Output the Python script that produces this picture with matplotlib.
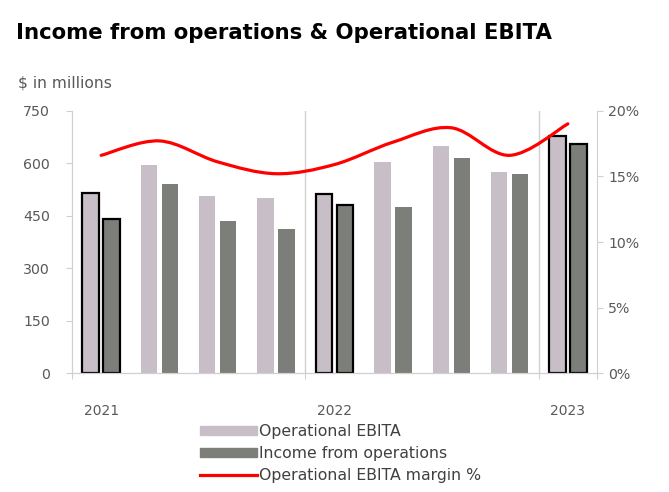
import matplotlib.pyplot as plt
from matplotlib.path import Path
from matplotlib.patches import PathPatch, Patch
from matplotlib.lines import Line2D
import numpy as np

# data (quarters Q4 2021 .. Q4 2023)
quarters = ["2021", "", "", "", "2022", "", "", "", "2023"]
ebita = [514, 595, 506, 501, 512, 604, 649, 575, 679]
income = [440, 541, 435, 412, 482, 475, 615, 569, 656]
margin = [16.6, 17.7, 16.1, 15.2, 15.9, 17.6, 18.7, 16.6, 19.0]
outlined = [True, False, False, False, True, False, False, False, True]

c_ebita = "#c8bec8"
c_income = "#7b7e79"
c_text = "#595959"
c_axis = "#d0d0d0"

fig = plt.figure(figsize=(6.69, 4.92), dpi=100)
ax = fig.add_axes([0.1076, 0.2412, 0.7848, 0.5338])
ax2 = ax.twinx()

x = np.arange(len(ebita))
w = 0.28
for i in x:
    kw = dict(edgecolor="black", linewidth=1.6) if outlined[i] else dict(linewidth=0)
    ax.bar(i - 0.18, ebita[i], w, color=c_ebita, **kw)
    ax.bar(i + 0.18, income[i], w, color=c_income, **kw)

ax.set_xlim(-0.5, len(x) - 0.5)
ax.set_ylim(0, 750)
ax.set_yticks([0, 150, 300, 450, 600, 750])
ax2.set_ylim(0, 20)
ax2.set_yticks([0, 5, 10, 15, 20])
ax2.set_yticklabels([f"{v}%" for v in [0, 5, 10, 15, 20]])

# year separators
for xv in [3.5, 7.5]:
    ax.axvline(xv, color=c_axis, lw=1, zorder=0)

# smoothed margin line (Bezier through the points)
pts = np.column_stack([x, margin]).astype(float)
verts = [tuple(pts[0])]
codes = [Path.MOVETO]
n = len(pts)
for i in range(n - 1):
    p0 = pts[max(i - 1, 0)]
    p1 = pts[i]
    p2 = pts[i + 1]
    p3 = pts[min(i + 2, n - 1)]
    c1 = p1 + (p2 - p0) / 6
    c2 = p2 - (p3 - p1) / 6
    verts += [tuple(c1), tuple(c2), tuple(p2)]
    codes += [Path.CURVE4] * 3
ax2.add_patch(PathPatch(Path(verts, codes), fill=False, edgecolor="#ff0000", lw=2.3,
                        capstyle="round"))

for a in (ax, ax2):
    for s in a.spines.values():
        s.set_color(c_axis)
    a.spines["top"].set_visible(False)
ax.spines["right"].set_visible(False)

ax.tick_params(axis="y", length=4, color=c_axis, labelcolor=c_text, labelsize=10.2, pad=12)
ax2.tick_params(axis="y", length=4, color=c_axis, labelcolor=c_text, labelsize=10.2, pad=4)
ax.set_xticks([-0.5, 3.5, 7.5, 8.5])
ax.set_xticklabels([])
ax.tick_params(axis="x", which="major", length=4, color=c_axis)
ax.set_xticks(x, minor=True)
ax.set_xticklabels(quarters, minor=True)
ax.tick_params(axis="x", which="minor", length=0, labelcolor=c_text, labelsize=10, pad=22)

fig.text(16 / 669, 1 - 33 / 492, "Income from operations & Operational EBITA",
         fontsize=15.3, fontweight="bold", color="black", va="center", ha="left")
fig.text(18 / 669, 1 - 83 / 492, "$ in millions", fontsize=11.2, color=c_text,
         va="center", ha="left")

handles = [Patch(color=c_ebita), Patch(color=c_income),
           Line2D([], [], color="#ff0000", lw=2.3)]
labels = ["Operational EBITA", "Income from operations", "Operational EBITA margin %"]
leg = fig.legend(handles, labels, loc="upper left", bbox_to_anchor=(200 / 669, 1 - 424 / 492),
                 frameon=False, fontsize=11.3, borderpad=0, handlelength=3.6,
                 handleheight=0.5, handletextpad=0.15, labelspacing=0.45, borderaxespad=0)
for t in leg.get_texts():
    t.set_color("#404040")

fig.savefig("out.png", dpi=100)
